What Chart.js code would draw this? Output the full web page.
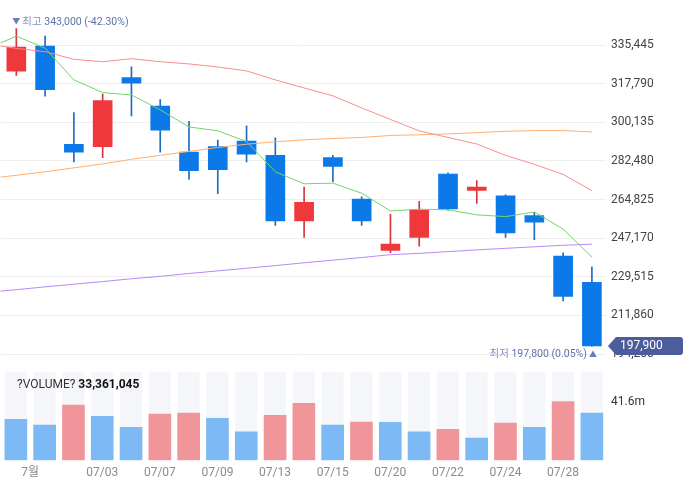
<!DOCTYPE html>
<html><head><meta charset="utf-8">
<script src="https://cdn.jsdelivr.net/npm/chart.js@4"></script>
<style>
html,body{margin:0;padding:0;background:#fff;}
#wrap{position:relative;width:694px;height:496px;overflow:hidden;}
#price{position:absolute;left:0;top:0;}
#vol{position:absolute;left:0;top:360px;}
</style></head><body>
<div id="wrap"><canvas id="price" width="694" height="362"></canvas><canvas id="vol" width="694" height="136"></canvas></div>
<script>
// ---- data ----
const dates = ['06/30','07/01','07/02','07/03','07/06','07/07','07/08','07/09','07/10','07/13','07/14','07/15','07/16','07/20','07/21','07/22','07/23','07/24','07/27','07/28','07/29'];
const opens  = [323500,335000,290000,289000,320500,307500,286500,289000,291500,285000,255000,284000,265000,241500,247500,276500,269000,266500,257500,239000,227000];
const highs  = [343000,339500,304500,313000,325500,310500,300500,292000,298500,293000,270500,285000,266000,258000,264000,277000,273500,267000,259000,240500,234000];
const lows   = [321500,312000,282000,284000,303000,286500,274000,267500,282000,253000,247500,273000,253000,240500,243500,260000,263000,247500,246500,218500,197800];
const closes = [334500,315000,286500,310000,318000,296500,278000,278500,285500,255000,263500,280000,255000,244500,260000,260500,270500,249500,254500,220500,197900];
// moving averages: first value belongs to the trading day before the first candle
const ma5   = [333800,339500,334000,319500,313700,312600,305800,298000,296200,291300,277500,272000,272300,267700,259600,260400,260100,257800,257000,259100,251300,238500];
const ma20  = [335900,333900,332400,328900,327800,329200,327800,326800,325400,323600,319500,315800,312200,306700,301400,296200,293200,290200,285000,280900,276300,268900];
const ma60  = [274300,275900,277500,279300,281100,283200,285000,286800,288600,290100,291200,292100,292700,293200,294100,294400,294800,295400,296000,296300,296300,295700];
const ma120 = [222400,223600,224900,226100,227300,228600,229700,231000,232200,233400,234600,235900,237100,238300,239600,240200,241000,241800,242500,243200,243900,244400];
const volumes = [29100000,24900000,39100000,31200000,23400000,32800000,33500000,29800000,20100000,31900000,40300000,24900000,27100000,26900000,20100000,22000000,15700000,26300000,23400000,41600000,33361045];
const volRise = [0,0,1,0,0,1,1,0,0,1,1,0,1,0,0,1,0,1,0,1,0];
const priceTicks = [194205,211860,229515,247170,264825,282480,300135,317790,335445];
const xTickPos = [0.5,3,5,7,9,11,13,15,17,19];
const xTickLabels = ['7월','07/03','07/07','07/09','07/13','07/15','07/20','07/22','07/24','07/28'];

// ---- styles / layout ----
const FONT = "Roboto, 'Noto Sans CJK KR', sans-serif";
const UP = '#ef383c', DOWN = '#0b7ae8', UPW = '#d8343a', DOWNW = '#1f6cc0';
const XMIN = -0.55, XMAX = 20.49;
const TOP_TICK_PX = 45, BOTTOM_TICK_PX = 354; // where the outer price ticks sit on the canvas
const fmt = v => v.toLocaleString('en-US');
const pct = (a, b) => ((a - b) / b * 100).toFixed(2);

const idx = dates.map((d, i) => i);
const maData = arr => arr.map((v, i) => ({x: i - 1, y: v}));
const lineDs = (arr, color) => ({type: 'line', data: maData(arr), borderColor: color, borderWidth: 1, pointRadius: 0, tension: 0, order: 0});

const annotPlugin = {
  id: 'annot',
  afterDraw(chart) {
    const {ctx, scales: {x, y}, chartArea} = chart;
    const last = closes.length - 1, cur = closes[last];
    const hi = Math.max(...highs), hiIdx = highs.indexOf(hi);
    const lo = Math.min(...lows), loIdx = lows.indexOf(lo);
    ctx.save();
    ctx.textBaseline = 'middle';
    // highest
    const hx = x.getPixelForValue(hiIdx), hy = y.getPixelForValue(hi) - 6.5;
    ctx.font = `8px ${FONT}`; ctx.fillStyle = '#6b7cb4'; ctx.textAlign = 'center';
    ctx.fillText('▼', hx, hy);
    ctx.textAlign = 'left'; ctx.font = `10.5px ${FONT}`;
    let tx = hx + 6;
    ctx.fillStyle = '#8592c4'; ctx.fillText('최고 ', tx, hy); tx += ctx.measureText('최고 ').width;
    ctx.fillStyle = '#5f72ad'; ctx.fillText(fmt(hi) + ' (' + pct(cur, hi) + '%)', tx, hy);
    // lowest
    const lx = x.getPixelForValue(loIdx), ly = y.getPixelForValue(lo) + 8.5;
    ctx.font = `8px ${FONT}`; ctx.fillStyle = '#6b7cb4'; ctx.textAlign = 'center';
    ctx.fillText('▲', lx + 1, ly);
    ctx.font = `10.5px ${FONT}`; ctx.textAlign = 'right';
    let rx = lx - 5;
    const valTxt = fmt(lo) + ' (' + pct(cur, lo) + '%)';
    ctx.fillStyle = '#5f72ad'; ctx.fillText(valTxt, rx, ly); rx -= ctx.measureText(valTxt).width;
    ctx.fillStyle = '#8592c4'; ctx.fillText('최저 ', rx, ly);
    // current price box
    const cy = y.getPixelForValue(cur);
    const x0 = chartArea.right + 2, x1 = 683, h = 9;
    ctx.fillStyle = '#4b5d9a';
    ctx.beginPath();
    ctx.moveTo(x0, cy);
    ctx.lineTo(x0 + 8, cy - h);
    ctx.lineTo(x1 - 3, cy - h);
    ctx.quadraticCurveTo(x1, cy - h, x1, cy - h + 3);
    ctx.lineTo(x1, cy + h - 3);
    ctx.quadraticCurveTo(x1, cy + h, x1 - 3, cy + h);
    ctx.lineTo(x0 + 8, cy + h);
    ctx.closePath();
    ctx.fill();
    ctx.fillStyle = '#ffffff'; ctx.font = `12px ${FONT}`; ctx.textAlign = 'left';
    ctx.fillText(fmt(cur), x0 + 12, cy + 0.5);
    ctx.restore();
  }
};

const priceChart = new Chart(document.getElementById('price'), {
  type: 'bar',
  data: {
    datasets: [
      lineDs(ma5, '#72d46c'),
      lineDs(ma20, '#f78e8e'),
      lineDs(ma60, '#ffb070'),
      lineDs(ma120, '#b889f6'),
      {type: 'bar', data: idx.map(i => ({x: i, y: [lows[i], highs[i]]})),
       backgroundColor: idx.map(i => closes[i] >= opens[i] ? UPW : DOWNW), barThickness: 1, grouped: false, order: 2},
      {type: 'bar', data: idx.map(i => ({x: i, y: [opens[i], closes[i]]})),
       backgroundColor: idx.map(i => closes[i] >= opens[i] ? UP : DOWN), barThickness: 19, grouped: false, order: 1}
    ]
  },
  options: {
    responsive: false, animation: false, devicePixelRatio: 1,
    layout: {padding: 0},
    plugins: {legend: {display: false}, tooltip: {enabled: false}},
    scales: {
      x: {type: 'linear', display: false, min: XMIN, max: XMAX, offset: false},
      y: {
        position: 'right', min: 194205, max: 353100,
        afterBuildTicks: s => { s.ticks = priceTicks.map(v => ({value: v})); },
        afterFit: s => { s.width = 88; },
        ticks: {padding: 5, color: '#444', font: {family: FONT, size: 12, lineHeight: 1.05}, callback: v => fmt(v)},
        grid: {color: '#efefef', drawTicks: false},
        border: {display: false}
      }
    }
  },
  plugins: [annotPlugin]
});
// fit the value range so the outer ticks land where the reference puts them
(function fitPrice() {
  const ca = priceChart.chartArea;
  const lo = priceTicks[0], hi = priceTicks[priceTicks.length - 1];
  const k = (hi - lo) / (BOTTOM_TICK_PX - TOP_TICK_PX);
  priceChart.options.scales.y.max = hi + (TOP_TICK_PX - ca.top) * k;
  priceChart.options.scales.y.min = lo - (ca.bottom - BOTTOM_TICK_PX) * k;
  priceChart.update('none');
})();

const volPlugin = {
  id: 'volbg',
  beforeDatasetsDraw(chart) {
    const {ctx, chartArea, scales: {x}} = chart;
    ctx.save(); ctx.fillStyle = '#f5f6fa';
    volumes.forEach((v, i) => {
      const px = x.getPixelForValue(i);
      ctx.fillRect(px - 11, chartArea.top, 22, chartArea.bottom - chartArea.top);
    });
    ctx.restore();
  },
  afterDraw(chart) {
    const {ctx, chartArea} = chart;
    ctx.save(); ctx.textBaseline = 'middle'; ctx.textAlign = 'left';
    const lbl = '?VOLUME? ';
    ctx.font = `12px ${FONT}`; ctx.fillStyle = '#333';
    const tx = chartArea.left + 17, ty = chartArea.top + 13;
    ctx.fillText(lbl, tx, ty);
    const w = ctx.measureText(lbl).width;
    ctx.font = `bold 12px ${FONT}`; ctx.fillStyle = '#111';
    ctx.fillText(fmt(volumes[volumes.length - 1]), tx + w, ty);
    ctx.restore();
  }
};

const vMax = Math.max(...volumes);
new Chart(document.getElementById('vol'), {
  type: 'bar',
  data: {
    datasets: [{data: volumes.map((v, i) => ({x: i, y: v})),
      backgroundColor: volRise.map(r => r ? '#f0969a' : '#7db9f5'), barThickness: 22, grouped: false}]
  },
  options: {
    responsive: false, animation: false, devicePixelRatio: 1,
    layout: {padding: {top: 10.7, bottom: 11.3, left: 0, right: 0}},
    plugins: {legend: {display: false}, tooltip: {enabled: false}},
    scales: {
      x: {
        type: 'linear', min: XMIN, max: XMAX, offset: false,
        afterBuildTicks: s => { s.ticks = xTickPos.map(v => ({value: v})); },
        ticks: {callback: (v, i) => xTickLabels[i], color: '#8c8c8c', padding: 5, maxRotation: 0, autoSkip: false, font: {family: FONT, size: 12}},
        grid: {display: false, drawTicks: false},
        border: {display: false}
      },
      y: {
        position: 'right', min: 0, max: vMax * 1.5,
        afterBuildTicks: s => { s.ticks = [{value: vMax}]; },
        afterFit: s => { s.width = 88; },
        ticks: {callback: v => (v / 1e6).toFixed(1) + 'm', padding: 5, color: '#333', font: {family: FONT, size: 12}},
        grid: {display: false, drawTicks: false},
        border: {display: false}
      }
    }
  },
  plugins: [volPlugin]
});
</script>
</body></html>
